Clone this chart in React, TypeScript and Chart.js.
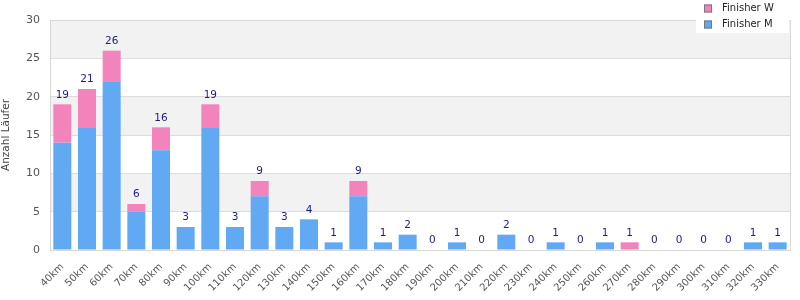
import React, { useEffect, useRef } from "react";
import { Chart, registerables } from "chart.js";
Chart.register(...registerables);

const categories = ["40km","50km","60km","70km","80km","90km","100km","110km","120km","130km","140km","150km","160km","170km","180km","190km","200km","210km","220km","230km","240km","250km","260km","270km","280km","290km","300km","310km","320km","330km"];
const finisherM = [14,16,22,5,13,3,16,3,7,3,4,1,7,1,2,0,1,0,2,0,1,0,1,0,0,0,0,0,1,1];
const finisherW = [5,5,4,1,3,0,3,0,2,0,0,0,2,0,0,0,0,0,0,0,0,0,0,1,0,0,0,0,0,0];
const yTicks = [0,5,10,15,20,25,30];

const COLOR_M = "#62a9f4";
const COLOR_W = "#f283bb";
const FONT = "'DejaVu Sans', sans-serif";

const bandsPlugin = {
  id: "bands",
  beforeDraw(chart: any) {
    const { ctx, chartArea, scales } = chart;
    const y = scales.y;
    ctx.save();
    ctx.fillStyle = "#f2f2f2";
    for (let v = 5; v < 30; v += 10) {
      const top = y.getPixelForValue(v + 5);
      const bot = y.getPixelForValue(v);
      ctx.fillRect(chartArea.left, top, chartArea.right - chartArea.left, bot - top);
    }
    ctx.restore();
  },
  afterDraw(chart: any) {
    const { ctx, chartArea, scales } = chart;
    const x = scales.x, y = scales.y;
    ctx.save();
    ctx.strokeStyle = "#d8d8d8";
    ctx.lineWidth = 1;
    ctx.strokeRect(Math.round(chartArea.left) + 0.5, Math.round(chartArea.top) + 0.5, Math.round(chartArea.right - chartArea.left), Math.round(chartArea.bottom - chartArea.top));
    ctx.fillStyle = "#1c1c8a";
    ctx.font = "10.5px " + FONT;
    ctx.textAlign = "center";
    ctx.textBaseline = "bottom";
    categories.forEach((c, i) => {
      const total = finisherM[i] + finisherW[i];
      ctx.fillText(String(total), x.getPixelForValue(i), y.getPixelForValue(total) - 4);
    });
    const lx = 696, ly = 0, lw = 93, lh = 33;
    ctx.fillStyle = "#ffffff";
    ctx.fillRect(lx, ly, lw, lh);
    const items = [{ t: "Finisher W", c: COLOR_W }, { t: "Finisher M", c: COLOR_M }];
    items.forEach((it, k) => {
      const cy = 8.5 + k * 16;
      ctx.fillStyle = it.c;
      ctx.fillRect(704, cy - 4, 8, 8);
      ctx.strokeStyle = "#777";
      ctx.strokeRect(704.5, cy - 3.5, 7, 7);
      ctx.fillStyle = "#222";
      ctx.textAlign = "left";
      ctx.textBaseline = "middle";
      ctx.font = "10px " + FONT;
      ctx.fillText(it.t, 722, cy);
    });
    ctx.restore();
  },
};

export default function App() {
  const ref = useRef<HTMLCanvasElement>(null);
  useEffect(() => {
    if (!ref.current) return;
    const chart = new Chart(ref.current, {
      type: "bar",
      data: {
        labels: categories,
        datasets: [
          { label: "Finisher M", data: finisherM, backgroundColor: COLOR_M, barPercentage: 0.73, categoryPercentage: 1 },
          { label: "Finisher W", data: finisherW, backgroundColor: COLOR_W, barPercentage: 0.73, categoryPercentage: 1 },
        ],
      },
      options: {
        animation: false,
        responsive: false,
        layout: { padding: { top: 20, right: 10, left: 0, bottom: 0 } },
        plugins: { legend: { display: false }, tooltip: { enabled: false } },
        scales: {
          x: {
            stacked: true,
            grid: { display: false },
            border: { display: false },
            ticks: {
              color: "#555",
              font: { family: FONT, size: 10 },
              minRotation: 45,
              maxRotation: 45,
              autoSkip: false,
            },
            afterFit(s: any) { s.height = 50; },
          },
          y: {
            stacked: true,
            min: 0,
            max: 30,
            afterBuildTicks(s: any) { s.ticks = yTicks.map((v) => ({ value: v })); },
            grid: { color: "#dddddd", drawTicks: false },
            border: { display: false },
            ticks: { color: "#555", font: { family: FONT, size: 11 }, padding: 10 },
            title: { display: true, text: "Anzahl Läufer", color: "#444", font: { family: FONT, size: 10.5 }, padding: 0 },
            afterFit(s: any) { s.width = 50; },
          },
        },
      },
      plugins: [bandsPlugin],
    });
    return () => chart.destroy();
  }, []);
  return (
    <div style={{ position: "fixed", left: 0, top: 0, width: 800, height: 300, background: "#fff" }}>
      <canvas ref={ref} width={800} height={300} style={{ width: 800, height: 300 }} />
    </div>
  );
}
